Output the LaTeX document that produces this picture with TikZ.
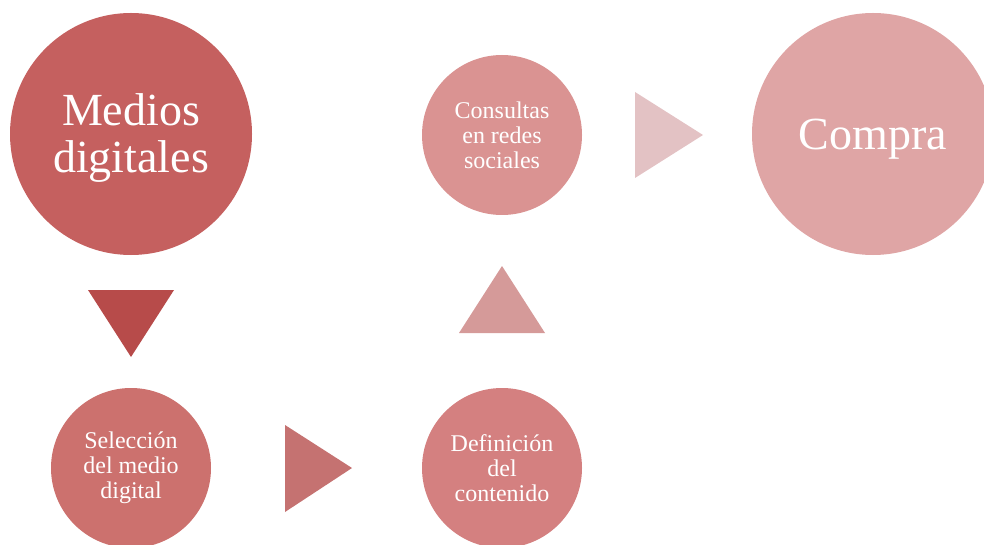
\documentclass[tikz,border=0pt]{standalone}
\usepackage{fontspec}
\setmainfont{Liberation Serif}
\definecolor{cMedios}{HTML}{C5605F}
\definecolor{cTriA}{HTML}{B74B4A}
\definecolor{cSel}{HTML}{CC716E}
\definecolor{cTriB}{HTML}{C57271}
\definecolor{cDef}{HTML}{D48080}
\definecolor{cTriC}{HTML}{D59A99}
\definecolor{cCons}{HTML}{DA9392}
\definecolor{cTriD}{HTML}{E3C2C4}
\definecolor{cCompra}{HTML}{DFA5A5}
% set the label a little lower without changing its nominal size
\newcommand{\lowered}[1]{\raisebox{-6pt}[\height][\depth]{\begin{tabular}{@{}c@{}}#1\end{tabular}}}
\tikzset{
  bigcirc/.style={circle, minimum size=242pt, inner sep=0pt, text=white, align=center,
    font=\fontsize{46}{47}\selectfont},
  smallcirc/.style={circle, minimum size=160pt, inner sep=0pt, text=white, align=center,
    font=\fontsize{24}{25}\selectfont},
}
\begin{document}
\begin{tikzpicture}[x=1pt,y=-1pt]
  \useasboundingbox (0,0) rectangle (984,545);
  \clip (0,0) rectangle (984,545);
  % stages
  \node[bigcirc, fill=cMedios] (medios) at (131,134) {\lowered{Medios\\digitales}};
  \node[smallcirc, fill=cSel] (sel) at (131,468) {Selección\\del medio\\digital};
  \node[smallcirc, fill=cDef] (def) at (502,468) {Definición\\del\\contenido};
  \node[smallcirc, fill=cCons] (cons) at (502,135) {Consultas\\en redes\\sociales};
  \node[bigcirc, fill=cCompra] (compra) at (873,134) {\lowered{Compra}};
  % triangular arrows between stages
  \fill[cTriA] (88,290) -- (174,290) -- (131,357) -- cycle;
  \fill[cTriB] (285,425) -- (352,468) -- (285,512) -- cycle;
  \fill[cTriC] (459,333) -- (502,266) -- (545,333) -- cycle;
  \fill[cTriD] (635,92) -- (703,135) -- (635,178) -- cycle;
\end{tikzpicture}
\end{document}
